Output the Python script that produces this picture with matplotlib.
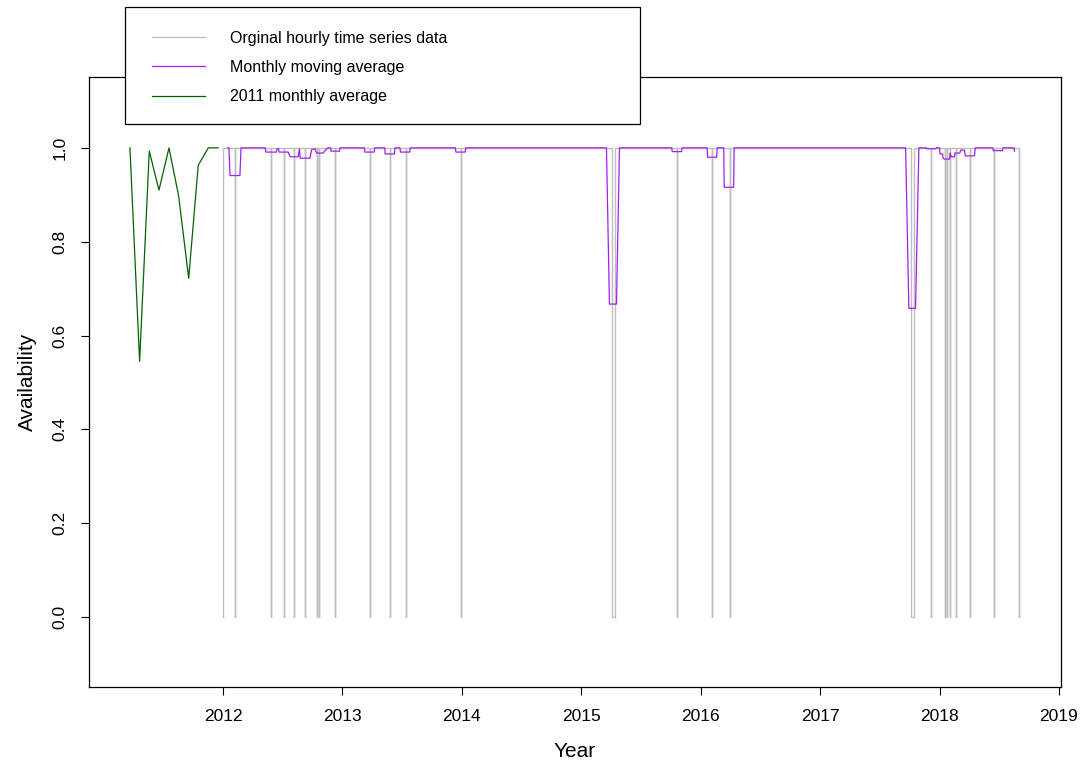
import numpy as np
import matplotlib
matplotlib.use("Agg")
import matplotlib.pyplot as plt
from matplotlib.patches import Rectangle
from matplotlib.lines import Line2D

plt.rcParams["font.family"] = ["Liberation Sans", "DejaVu Sans"]

# ---------------------------------------------------------------
# Data
# ---------------------------------------------------------------
# 2011 monthly average availability
green_years = [2011.221, 2011.302, 2011.383, 2011.464, 2011.548,
               2011.629, 2011.713, 2011.793, 2011.877, 2011.960]
green_vals = [1.0, 0.545, 0.993, 0.910, 1.0, 0.897, 0.722, 0.963, 1.0, 1.0]

# hourly series: outage start (decimal year) and length (hours), value 0 during outage
outage_start = [2012.000, 2012.100, 2012.402, 2012.510, 2012.594, 2012.686,
                2012.787, 2012.803, 2012.937, 2013.230, 2013.397, 2013.529,
                2013.992, 2015.255, 2015.802, 2016.098, 2016.243, 2017.760,
                2017.931, 2018.042, 2018.061, 2018.084, 2018.134, 2018.255,
                2018.452, 2018.664]
outage_hours = [2, 2, 2, 2, 2, 2,
                2, 2, 2, 2, 2, 2,
                2, 220, 2, 2, 2, 220,
                2, 2, 2, 2, 2, 4,
                2, 2]
series_end = 2018.665

# monthly moving average
ma_years = [2012.039, 2012.050, 2012.059, 2012.142, 2012.151, 2012.355, 2012.359,
            2012.447, 2012.452, 2012.466, 2012.470, 2012.546, 2012.563, 2012.630,
            2012.640, 2012.647, 2012.728, 2012.742, 2012.770, 2012.784, 2012.839,
            2012.860, 2012.880, 2012.901, 2012.905, 2012.976, 2012.980,
            2013.184, 2013.188, 2013.266, 2013.270, 2013.354, 2013.358, 2013.436,
            2013.440, 2013.482, 2013.486, 2013.564, 2013.568, 2013.946, 2013.950,
            2014.028, 2014.032,
            2015.211, 2015.236, 2015.295, 2015.320, 2015.758, 2015.762, 2015.840,
            2015.844, 2016.054, 2016.058, 2016.134, 2016.138, 2016.193, 2016.197,
            2016.276, 2016.280,
            2017.716, 2017.743, 2017.799, 2017.827, 2017.887, 2017.890, 2017.970,
            2017.974, 2018.000, 2018.004, 2018.025, 2018.030, 2018.042, 2018.084,
            2018.088, 2018.098, 2018.125, 2018.129, 2018.170, 2018.176, 2018.209,
            2018.215, 2018.293, 2018.299, 2018.446, 2018.450, 2018.527, 2018.531,
            2018.624, 2018.628]
ma_vals = [1.000, 1.000, 0.941, 0.941, 1.000, 1.000, 0.991,
           0.991, 0.998, 0.998, 0.991, 0.991, 0.981, 0.981,
           0.998, 0.978, 0.978, 0.996, 0.998, 0.989, 0.989,
           0.996, 1.000, 1.000, 0.993, 0.993, 1.000,
           1.000, 0.991, 0.991, 1.000, 1.000, 0.987, 0.987,
           1.000, 1.000, 0.991, 0.991, 1.000, 1.000, 0.991,
           0.991, 1.000,
           1.000, 0.667, 0.667, 1.000, 1.000, 0.992, 0.992,
           1.000, 1.000, 0.980, 0.980, 1.000, 1.000, 0.916,
           0.916, 1.000,
           1.000, 0.658, 0.658, 1.000, 1.000, 0.998, 0.998,
           1.000, 1.000, 0.987, 0.987, 0.978, 0.976, 0.976,
           0.989, 0.981, 0.981, 0.989, 0.989, 0.995, 0.995,
           0.983, 0.983, 1.000, 1.000, 0.994, 0.994, 1.000,
           1.000, 0.993]

year_ticks = [2012, 2013, 2014, 2015, 2016, 2017, 2018, 2019]
avail_ticks = [0.0, 0.2, 0.4, 0.6, 0.8, 1.0]

legend_labels = ["Orginal hourly time series data",
                 "Monthly moving average",
                 "2011 monthly average"]
colors = ["#BEBEBE", "#A020F0", "#006400"]

# ---------------------------------------------------------------
# Build the hourly step series from the outage list
# ---------------------------------------------------------------
HOUR = 1.0 / (365.25 * 24)
hx, hy = [], []
for s, h in zip(outage_start, outage_hours):
    e = s + h * HOUR
    if hx:
        hx += [s]
        hy += [1.0]
    hx += [s, e]
    hy += [0.0, 0.0]
    hx += [e]
    hy += [1.0]
hx += [series_end]
hy += [1.0]

# ---------------------------------------------------------------
# Figure
# ---------------------------------------------------------------
fig = plt.figure(figsize=(10.89, 7.64), dpi=100)
ax = fig.add_axes([0.0817, 0.1008, 0.8926, 0.7984])

ax.plot(hx, hy, color=colors[0], lw=1.0)
ax.plot(ma_years, ma_vals, color=colors[1], lw=0.9)
ax.plot(green_years, green_vals, color=colors[2], lw=0.9)

ax.set_xlim(2010.878, 2019.017)
ax.set_ylim(-0.149, 1.151)
ax.set_xticks(year_ticks)
ax.set_xticklabels([str(y) for y in year_ticks])
ax.set_yticks(avail_ticks)
ax.set_yticklabels([f"{v:.1f}" for v in avail_ticks], rotation=90, va="center")
ax.tick_params(direction="out", length=5.5, width=0.8, labelsize=12.5, pad=10)
ax.tick_params(axis="x", pad=10)
for sp in ax.spines.values():
    sp.set_linewidth(0.9)

ax.set_xlabel("Year", fontsize=15, labelpad=13)
ax.set_ylabel("Availability", fontsize=15, labelpad=11)

# legend box, drawn in figure pixels on top of the axes
W, H = 1089.0, 764.0
def fx(px):
    return px / W
def fy(py):
    return 1 - py / H

box = Rectangle((fx(125), fy(124)), fx(640) - fx(125), fy(7) - fy(124),
                transform=fig.transFigure, facecolor="white",
                edgecolor="black", lw=0.9, zorder=10)
fig.add_artist(box)
for i, (lab, c) in enumerate(zip(legend_labels, colors)):
    ypx = 37 + i * 29.3
    fig.add_artist(Line2D([fx(152), fx(205)], [fy(ypx), fy(ypx)],
                          transform=fig.transFigure, color=c, lw=0.9, zorder=11))
    fig.text(fx(230), fy(ypx + 1), lab, fontsize=11.5, va="center", ha="left",
             zorder=12)

fig.savefig("out.png", dpi=100)
